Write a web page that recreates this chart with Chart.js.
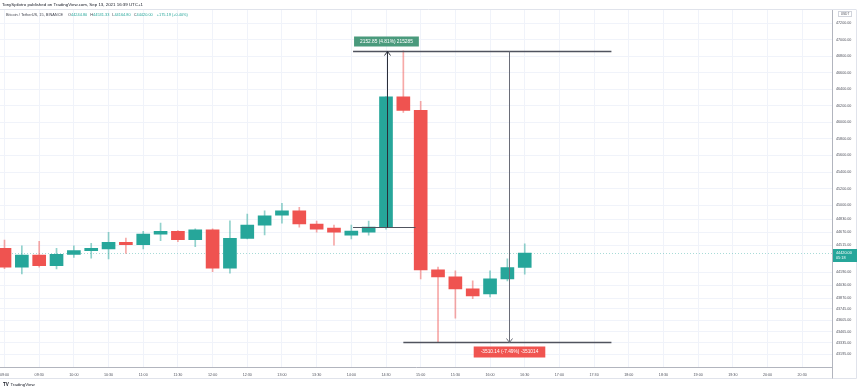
<!DOCTYPE html>
<html>
<head>
<meta charset="utf-8">
<script src="https://cdn.jsdelivr.net/npm/chart.js@4.4.0/dist/chart.umd.min.js"></script>
<style>
  html, body { margin: 0; padding: 0; background: #fff; }
</style>
</head>
<body>
<canvas id="myChart" width="860" height="391"></canvas>
<script>
// 15 min candles, BTC/USDT Binance, Sep 13 2021
const times = ['09:00','09:15','09:30','09:45','10:00','10:15','10:30','10:45','11:00','11:15',
    '11:30','11:45','12:00','12:15','12:30','12:45','13:00','13:15','13:30','13:45',
    '14:00','14:15','14:30','14:45','15:00','15:15','15:30','15:45','16:00','16:15','16:30'];
const opens  = [44477,44248,44396,44267,44404,44448,44468,44549,44520,44649,
    44681,44580,44701,44236,44597,44757,44878,44930,44771,44721,
    44637,44673,44733,46308,46146,44215,44131,43986,43926,44107,44244.80];
const highs  = [44577,44508,44561,44477,44508,44537,44669,44601,44681,44781,
    44690,44712,44712,44809,44890,44930,45022,44974,44805,44757,
    44757,44805,46312,46866,46255,44251,44203,44083,44203,44348,44531.33];
const lows   = [44230,44167,44250,44227,44368,44356,44348,44416,44468,44568,
    44556,44496,44195,44175,44590,44640,44781,44733,44673,44516,
    44589,44637,44709,46122,44107,43344,43633,43866,43890,44083,44164.80];
const closes = [44248,44396,44267,44404,44448,44477,44549,44520,44649,44681,
    44580,44701,44236,44597,44757,44869,44930,44771,44709,44673,
    44685,44733,46308,46146,44215,44131,43986,43902,44107,44244.81,44420.00];

// axis labels
const xTickLabels = ['09:00','09:30','10:00','10:30','11:00','11:30','12:00','12:30','13:00','13:30',
    '14:00','14:30','15:00','15:30','16:00','16:30','17:00','17:30','18:00','18:30',
    '19:00','19:30','20:00','20:30'];
const yTickValues = [47200,47000,46800,46600,46400,46200,46000,45800,45600,45400,45200,45000,
    44830,44670,44515,44190,44030,43870,43745,43605,43465,43335,43195];

// price range drawings
const rangeLevels = [44733, 46866, 43344];   // base, top, bottom
const rangeUpText = '2152.85 (4.81%) 215285';
const rangeDownText = '-3510.14 (-7.49%) -351014';
const countdown = '05:18';

const up = '#26a69a';
const down = '#ef5350';
const upWick = 'rgba(38,166,154,0.5)';
const downWick = 'rgba(239,83,80,0.5)';
const gridColor = '#f0f3fa';
const txt = '#50535e';

const isUp = times.map((t, i) => closes[i] >= opens[i]);
const last = times.length - 1;

const overlay = {
    id: 'overlay',
    beforeDatasetsDraw(chart) {
        const {ctx, chartArea, scales} = chart;
        // dotted last price line
        const py = scales.y.getPixelForValue(closes[last]);
        ctx.save();
        ctx.strokeStyle = 'rgba(38,166,154,0.4)';
        ctx.setLineDash([1, 2]);
        ctx.lineWidth = 1;
        ctx.beginPath();
        ctx.moveTo(chartArea.left, Math.round(py) + 0.5);
        ctx.lineTo(chartArea.right, Math.round(py) + 0.5);
        ctx.stroke();
        ctx.restore();
    },
    afterDraw(chart) {
        const {ctx, chartArea, scales} = chart;
        const x = scales.x, y = scales.y;
        ctx.save();

        // frame
        ctx.strokeStyle = '#e0e3eb';
        ctx.lineWidth = 1;
        ctx.beginPath();
        ctx.moveTo(856.5, 10);
        ctx.lineTo(856.5, 378.5);
        ctx.lineTo(0, 378.5);
        ctx.moveTo(0, 9.5);
        ctx.lineTo(856.5, 9.5);
        ctx.stroke();
        ctx.strokeStyle = '#b2b5be';
        ctx.beginPath();
        ctx.moveTo(chartArea.right + 0.5, chartArea.bottom);
        ctx.lineTo(chartArea.right + 0.5, 378.5);
        ctx.stroke();

        // header
        ctx.textBaseline = 'middle';
        ctx.textAlign = 'left';
        ctx.fillStyle = '#131722';
        ctx.font = '4.4px "Liberation Sans", Arial, sans-serif';
        ctx.fillText('TonySpilotro published on TradingView.com, Sep 13, 2021 16:39 UTC+1', 2, 5);

        // legend line
        ctx.font = '3.9px "Liberation Sans", Arial, sans-serif';
        ctx.fillStyle = '#434651';
        ctx.fillText('Bitcoin / TetherUS, 15, BINANCE', 6, 14.5);
        const chg = closes[last] - closes[last - 1];
        const pct = chg / closes[last - 1] * 100;
        const parts = [['O', opens[last]], ['H', highs[last]], ['L', lows[last]], ['C', closes[last]]];
        let lx = 68;
        parts.forEach(p => {
            ctx.fillStyle = '#434651';
            ctx.fillText(p[0], lx, 14.5);
            lx += ctx.measureText(p[0]).width;
            ctx.fillStyle = up;
            const s = p[1].toFixed(2);
            ctx.fillText(s, lx, 14.5);
            lx += ctx.measureText(s).width + 3;
        });
        ctx.fillStyle = up;
        ctx.fillText('+' + chg.toFixed(2) + ' (+' + pct.toFixed(2) + '%)', lx + 1, 14.5);

        // USDT box
        ctx.strokeStyle = '#d1d4dc';
        ctx.strokeRect(838.5, 11.5, 13, 5);
        ctx.fillStyle = txt;
        ctx.font = '3.2px "Liberation Sans", Arial, sans-serif';
        ctx.textAlign = 'center';
        ctx.fillText('USDT', 845, 14.2);

        // price range drawings
        const [base, top, bottom] = rangeLevels;
        const yBase = Math.round(y.getPixelForValue(base)) + 0.5;
        const yTop = Math.round(y.getPixelForValue(top)) + 0.5;
        const yBot = Math.round(y.getPixelForValue(bottom)) + 0.5;
        const xStart = x.getPixelForValue(20.1);
        const xEnd = x.getPixelForValue(35.0);
        const xUp = Math.round(x.getPixelForValue(22.05)) + 0.5;
        const xDown = Math.round(x.getPixelForValue(29.1)) + 0.5;
        const xBotStart = x.getPixelForValue(23.0);
        const xBaseEnd = x.getPixelForValue(23.7);

        ctx.lineWidth = 1;
        ctx.strokeStyle = '#50535e';
        ctx.beginPath();
        ctx.moveTo(xStart, yBase); ctx.lineTo(xBaseEnd, yBase);
        ctx.stroke();
        ctx.lineWidth = 1.3;
        ctx.beginPath();
        ctx.moveTo(xStart, yTop); ctx.lineTo(xEnd, yTop);
        ctx.moveTo(xBotStart, yBot); ctx.lineTo(xEnd, yBot);
        ctx.stroke();
        ctx.lineWidth = 1;
        ctx.strokeStyle = '#2a2e39';
        ctx.beginPath();
        ctx.moveTo(xUp, yBase); ctx.lineTo(xUp, yTop);
        ctx.moveTo(xUp - 3, yTop + 4); ctx.lineTo(xUp, yTop); ctx.lineTo(xUp + 3, yTop + 4);
        ctx.stroke();
        ctx.strokeStyle = '#6a6d78';
        ctx.beginPath();
        ctx.moveTo(xDown, yTop); ctx.lineTo(xDown, yBot);
        ctx.moveTo(xDown - 3, yBot - 4); ctx.lineTo(xDown, yBot); ctx.lineTo(xDown + 3, yBot - 4);
        ctx.stroke();

        ctx.font = '4.8px "Liberation Sans", Arial, sans-serif';
        ctx.textAlign = 'center';
        let w = ctx.measureText(rangeUpText).width + 12;
        ctx.fillStyle = '#4a9a7c';
        ctx.fillRect(xStart + 1, yTop - 15, w, 10);
        ctx.fillStyle = '#ffffff';
        ctx.fillText(rangeUpText, xStart + 1 + w / 2, yTop - 10);

        w = ctx.measureText(rangeDownText).width + 14;
        ctx.fillStyle = '#f05450';
        ctx.fillRect(xDown - w / 2, yBot + 4, w, 11);
        ctx.fillStyle = '#ffffff';
        ctx.fillText(rangeDownText, xDown, yBot + 9.5);

        // last price box
        const py = y.getPixelForValue(closes[last]);
        ctx.fillStyle = up;
        ctx.fillRect(chartArea.right + 1, py - 4, 24, 13);
        ctx.fillStyle = '#ffffff';
        ctx.font = '3.8px "Liberation Sans", Arial, sans-serif';
        ctx.textAlign = 'left';
        ctx.fillText(closes[last].toFixed(2), chartArea.right + 4, py - 0.5);
        ctx.fillText(countdown, chartArea.right + 4, py + 5);

        // logo
        ctx.fillStyle = '#131722';
        ctx.font = 'bold 4.6px "Liberation Sans", Arial, sans-serif';
        ctx.fillText('TV', 3, 385);
        ctx.font = '4.4px "Liberation Sans", Arial, sans-serif';
        ctx.fillText('TradingView', 10.5, 385);
        ctx.restore();
    }
};

const data = {
    datasets: [{
        label: 'wicks',
        data: times.map((t, i) => ({x: i, y: [lows[i], highs[i]]})),
        backgroundColor: isUp.map(u => u ? upWick : downWick),
        barThickness: 1,
        grouped: false,
        order: 2
    }, {
        label: 'bodies',
        data: times.map((t, i) => ({x: i, y: [opens[i], closes[i]]})),
        backgroundColor: isUp.map(u => u ? up : down),
        barThickness: 13,
        minBarLength: 1,
        grouped: false,
        order: 1
    }]
};

const config = {
    type: 'bar',
    data: data,
    options: {
        responsive: false,
        animation: false,
        devicePixelRatio: 1,
        layout: { padding: { top: 10, right: 4, bottom: 9, left: 0 } },
        plugins: { legend: { display: false }, tooltip: { enabled: false } },
        scales: {
            x: {
                type: 'linear',
                min: -0.26,
                max: 47.72,
                offset: false,
                afterBuildTicks: s => { s.ticks = xTickLabels.map((l, k) => ({value: k * 2})); },
                afterFit: s => { s.paddingLeft = 0; s.paddingRight = 0; },
                ticks: {
                    callback: v => xTickLabels[v / 2],
                    autoSkip: false,
                    maxRotation: 0,
                    padding: 5,
                    color: txt,
                    font: { size: 3.7, family: '"Liberation Sans", Arial, sans-serif' }
                },
                grid: { color: gridColor, drawTicks: false, offset: false },
                border: { color: '#b2b5be' }
            },
            y: {
                position: 'right',
                min: 43034,
                max: 47360,
                afterBuildTicks: s => { s.ticks = yTickValues.map(v => ({value: v})); },
                afterFit: s => { s.width = 24; },
                ticks: {
                    callback: v => v.toFixed(2),
                    autoSkip: false,
                    padding: 4,
                    color: txt,
                    font: { size: 3.7, family: '"Liberation Sans", Arial, sans-serif' }
                },
                grid: { color: gridColor, drawTicks: false },
                border: { color: '#b2b5be' }
            }
        }
    },
    plugins: [overlay]
};

const myChart = new Chart(document.getElementById('myChart'), config);
</script>
</body>
</html>
